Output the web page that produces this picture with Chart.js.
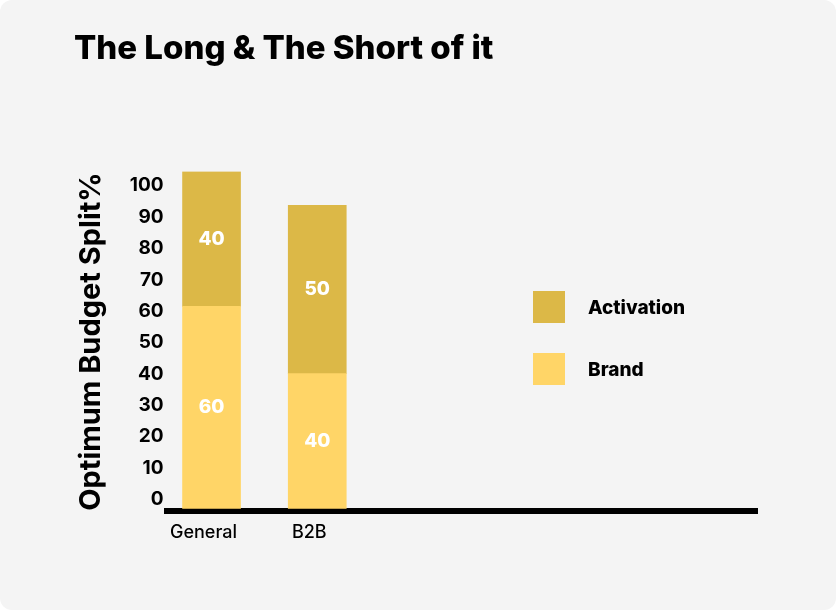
<!DOCTYPE html>
<html>
<head>
<meta charset="utf-8">
<script src="https://cdn.jsdelivr.net/npm/chart.js@4"></script>
<style>
  body { margin: 0; background: #ffffff; }
  #wrap { position: relative; width: 837px; height: 612px; }
  #panel { position: absolute; left: 0; top: 0; width: 836px; height: 610px; background: #f4f4f4; border-radius: 12px; }
  #box { position: absolute; left: 0; top: 0; width: 837px; height: 612px; }
  #legend { position: absolute; left: 533px; top: 291px; font-family: Inter, sans-serif; font-weight: 800; font-size: 19px; color: #000; }
  .item { display: flex; align-items: center; height: 32px; margin-bottom: 30px; }
  .swatch { width: 32px; height: 32px; margin-right: 23px; }
</style>
</head>
<body>
<div id="wrap">
  <div id="panel"></div>
  <div id="box"><canvas id="budget-chart"></canvas></div>
  <div id="legend"></div>
</div>
<script>
var categories = ['General', 'B2B'];
var brandValues = [60, 40];
var activationValues = [40, 50];
var yTickValues = [0, 10, 20, 30, 40, 50, 60, 70, 80, 90, 100];

var brandColor = '#ffd567';
var activationColor = '#dcb847';

function toPoints(values) {
    return categories.map((c, i) => ({ x: i, y: values[i] }));
}

// white numbers in the middle of each segment
var segmentLabels = {
    id: 'segmentLabels',
    afterDatasetsDraw(chart) {
        var ctx = chart.ctx;
        ctx.save();
        ctx.fillStyle = '#ffffff';
        ctx.font = '800 19px Inter';
        ctx.textAlign = 'center';
        ctx.textBaseline = 'middle';
        chart.data.datasets.forEach((ds, i) => {
            chart.getDatasetMeta(i).data.forEach((bar, j) => {
                ctx.fillText(String(ds.data[j].y), bar.x, (bar.y + bar.base) / 2);
            });
        });
        ctx.restore();
    }
};

var ctx = document.getElementById('budget-chart').getContext('2d');
var budgetChart = new Chart(ctx, {
    type: 'bar',
    data: {
        datasets: [{
            label: 'Brand',
            data: toPoints(brandValues),
            backgroundColor: brandColor,
            barThickness: 58
        }, {
            label: 'Activation',
            data: toPoints(activationValues),
            backgroundColor: activationColor,
            barThickness: 58
        }]
    },
    options: {
        responsive: true,
        maintainAspectRatio: false,
        animation: false,
        layout: { padding: { left: 74, right: 80, top: 0, bottom: 59 } },
        plugins: {
            legend: { display: false },
            tooltip: { enabled: false },
            title: {
                display: true,
                text: 'The Long & The Short of it',
                align: 'start',
                color: '#000',
                font: { family: 'Inter', size: 33, weight: '800' },
                padding: { top: 29, bottom: 103 }
            }
        },
        scales: {
            x: {
                type: 'linear',
                offset: false,
                min: -0.425,
                max: 5.16,
                stacked: true,
                grid: { display: false, drawTicks: false },
                border: { display: true, color: '#000', width: 6 },
                afterBuildTicks: scale => {
                    scale.ticks = categories.map((c, i) => ({ value: i }));
                },
                ticks: {
                    callback: value => categories[value],
                    autoSkip: false,
                    maxRotation: 0,
                    labelOffset: -8,
                    padding: 10,
                    color: '#000',
                    font: { family: 'Inter', size: 18, weight: '500' }
                }
            },
            y: {
                display: false,
                stacked: true,
                min: -0.9,
                max: 100
            },
            yLabels: {
                position: 'left',
                min: -3.85,
                max: 104.5,
                grid: { display: false, drawTicks: false },
                border: { display: false },
                afterBuildTicks: scale => {
                    scale.ticks = yTickValues.map(v => ({ value: v }));
                },
                ticks: {
                    padding: 3,
                    color: '#000',
                    font: { family: 'Inter', size: 19, weight: '700' }
                },
                title: {
                    display: true,
                    text: 'Optimum Budget Split%',
                    color: '#000',
                    font: { family: 'Inter', size: 29, weight: '700' },
                    padding: { top: 0, bottom: 18 }
                }
            }
        }
    },
    plugins: [segmentLabels]
});

// legend, top row is the top segment
var legendBox = document.getElementById('legend');
budgetChart.data.datasets.slice().reverse().forEach(ds => {
    var row = document.createElement('div');
    row.className = 'item';
    var sw = document.createElement('span');
    sw.className = 'swatch';
    sw.style.background = ds.backgroundColor;
    var txt = document.createElement('span');
    txt.textContent = ds.label;
    row.appendChild(sw);
    row.appendChild(txt);
    legendBox.appendChild(row);
});
</script>
</body>
</html>
